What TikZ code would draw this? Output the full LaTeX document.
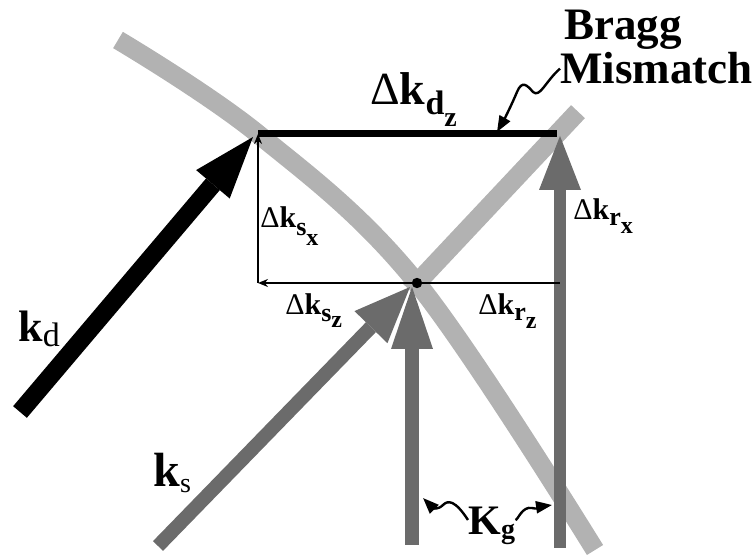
\documentclass[tikz,border=0pt]{standalone}
\usepackage{fontspec}
\setmainfont{Liberation Serif}
\usetikzlibrary{arrows.meta, calc}
\colorlet{bandgray}{black!30}
\colorlet{beamgray}{black!58}
\newcommand{\dsub}[3]{\raisebox{-#1}{\fontsize{#2}{#2}\selectfont\bfseries #3}}
\tikzset{
  band/.style={draw=bandgray, line width=9.5pt},
  beam/.style={draw=beamgray, line width=#1},
  thinvec/.style={line width=1pt, -{Stealth[length=5pt, width=4pt]}},
  squig/.style={line width=1.2pt, -{Triangle[length=8pt, width=6pt]}},
  lbl/.style={inner sep=0pt, anchor=base west},
  big/.style={font=\fontsize{22.5}{24}\selectfont\bfseries},
  small/.style={font=\fontsize{15}{16}\selectfont},
}

\begin{document}
\begin{tikzpicture}[x=0.5pt, y=-0.5pt]
    \useasboundingbox (0,0) rectangle (756,555);
    \coordinate (dtl) at (258,134);
    \coordinate (dtr) at (557,134);
    \coordinate (cen) at (417,283);
    \coordinate (bl) at (258,283);
    \coordinate (br) at (560,283);
    \coordinate (kdtail) at (20,412);
    \coordinate (kdtip) at (253,137);
    \coordinate (kstail) at (158,546);
    \coordinate (kstip) at (410,287);
    \coordinate (gtail) at (412,545);
    \coordinate (gtip) at (412,287);
    \coordinate (rtail) at (560,548);
    \coordinate (rtip) at (560,136);
    \coordinate (kgl) at (423,498);
    \coordinate (kgr) at (552,505);
    \coordinate (mis) at (497,132);

    \draw[band] plot[smooth, tension=0.6] coordinates {(118,40) (dtl) (cen) (595,550)};
    \draw[band] ($(cen)!-0.05!(dtr)$) -- ($(cen)!1.15!(dtr)$);

    \draw[beam=7pt, -{Triangle[length=28pt, width=23pt, line width=0pt]}] (kstail) -- (kstip);
    \draw[beam=7pt, -{Triangle[length=31pt, width=21pt, line width=0pt]}] (gtail) -- (gtip);
    \draw[beam=6pt, -{Triangle[length=27pt, width=21pt, line width=0pt]}] (rtail) -- (rtip);
    \draw[line width=9pt, -{Triangle[length=31pt, width=22pt, line width=0pt]}] (kdtail) -- (kdtip);

    \draw[line width=3.5pt] (dtl) -- (dtr);
    \draw[thinvec] (cen) -- (bl);
    \draw[thinvec] (bl) -- (dtl);
    \draw[line width=1pt] (cen) -- (br);
    \fill (cen) circle (2.6pt);

    \node[lbl, big] (bragg) at (564,40) {Bragg};
    \node[lbl, big] (mism) at (560,84) {Mismatch};
    \node[lbl, font=\fontsize{23}{24}\selectfont] (dkdz) at (370,105) {Δ\textbf{k}\dsub{5pt}{17}{d\dsub{6pt}{14}{z}}};
    \node[lbl, small] (dksx) at (260,228) {Δ\textbf{k}\dsub{4pt}{13}{s\dsub{5pt}{12}{x}}};
    \node[lbl, small] (dkrx) at (573,220) {Δ\textbf{k}\dsub{3pt}{13}{r\dsub{4pt}{12}{x}}};
    \node[lbl, small] (dksz) at (285,315) {Δ\textbf{k}\dsub{3.5pt}{13}{s\dsub{3pt}{12}{z}}};
    \node[lbl, small] (dkrz) at (478,315) {Δ\textbf{k}\dsub{3pt}{13}{r\dsub{4pt}{12}{z}}};
    \node[lbl, font=\fontsize{22}{24}\selectfont\bfseries] (kd) at (18,342) {k\dsub{2.5pt}{17}{\mdseries d}};
    \node[lbl, font=\fontsize{24}{24}\selectfont\bfseries] (ks) at (153,487) {k\dsub{3pt}{14}{\mdseries s}};
    \node[lbl, font=\fontsize{21}{24}\selectfont\bfseries] (kg) at (468,535) {K\dsub{2pt}{14}{g}};

    \draw[squig] (mism.west) .. controls (545,82) and (540,98) .. (533,92)
      .. controls (527,85) and (522,80) .. (517,92) .. controls (512,104) and (505,118) .. (mis);
    \draw[squig] (kg.165) .. controls (455,500) and (448,500) .. (443,505)
      .. controls (438,510) and (433,508) .. (kgl);
    \draw[squig] (kg.15) .. controls (518,520) and (522,506) .. (532,508)
      .. controls (540,510) and (545,506) .. (kgr);
  \end{tikzpicture}
\end{document}
